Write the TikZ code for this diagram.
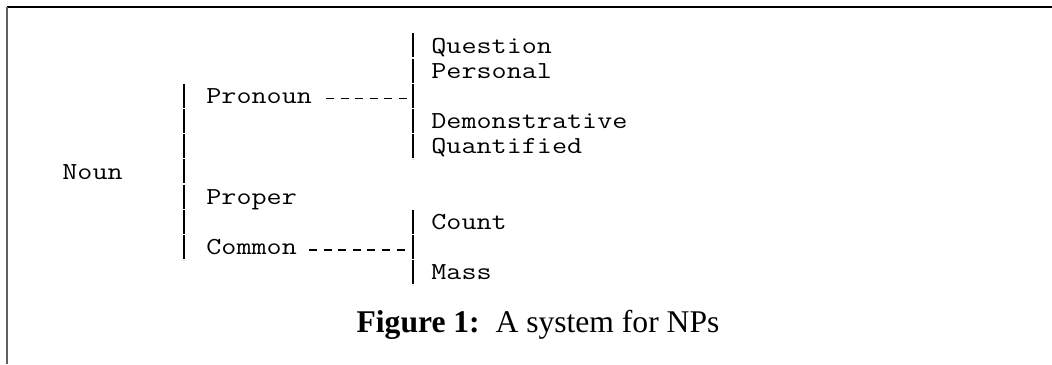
\documentclass[tikz,border=0pt]{standalone}
\usepackage{fontspec}
\setmainfont{Liberation Serif}
\setmonofont[FakeStretch=1.2]{Latin Modern Mono}

\begin{document}
\begin{tikzpicture}[
  x=0.5pt, y=-0.5pt,
  word/.style={anchor=base west, inner sep=0pt,
    font=\ttfamily\fontsize{12.2}{14}\selectfont},
  caption/.style={anchor=base, inner sep=0pt,
    font=\fontsize{15.8}{19}\selectfont},
  barline/.style={draw, line width=0.7pt, dash pattern=on 12pt off 0.6pt},
  dashline/.style={draw, line width=0.55pt, dash pattern=on 4pt off 3.3pt,
    yshift=1.2pt},
  frametop/.style={draw, line width=0.8pt},
  frameleft/.style={draw, gray!75!black, line width=1.1pt}
]
  \useasboundingbox (0,0) rectangle (1052,364);
  \draw[frametop] (7,7) -- (1052,7);
  \draw[frameleft] (7,7) -- (7,364);

  \node[word] (question) at (431,53) {Question};
  \node[word] (personal) at (431,78.2) {Personal};
  \node[word] (pronoun) at (206,103.4) {Pronoun};
  \node[word] (demonstrative) at (431,128.6) {Demonstrative};
  \node[word] (quantified) at (431,153.8) {Quantified};
  \node[word] (noun) at (62,179) {Noun};
  \node[word] (proper) at (206,204.2) {Proper};
  \node[word] (count) at (431,229.4) {Count};
  \node[word] (common) at (206,254.6) {Common};
  \node[word] (mass) at (431,279.8) {Mass};
  \node[caption] (fig) at (538,332) {\textbf{Figure 1:}\hspace{0.5em}A system for NPs};

  \coordinate (pronbartop) at (413,33.4);
  \coordinate (pronbarbot) at (413,159.4);
  \coordinate (nounbartop) at (184,83.8);
  \coordinate (nounbarbot) at (184,260.2);
  \coordinate (combartop) at (413,209.8);
  \coordinate (combarbot) at (413,285.4);
  \coordinate (pronstub) at (326,0);
  \coordinate (comstub) at (309,0);

  \path[barline] (pronbartop) -- (pronbarbot);
  \path[barline] (nounbartop) -- (nounbarbot);
  \path[barline] (combartop) -- (combarbot);
  \path[dashline, shorten >=3pt] (pronoun.mid east -| pronstub) -- (pronoun.mid east -| pronbartop);
  \path[dashline, shorten >=3pt] (common.mid east -| comstub) -- (common.mid east -| combartop);
\end{tikzpicture}
\end{document}
